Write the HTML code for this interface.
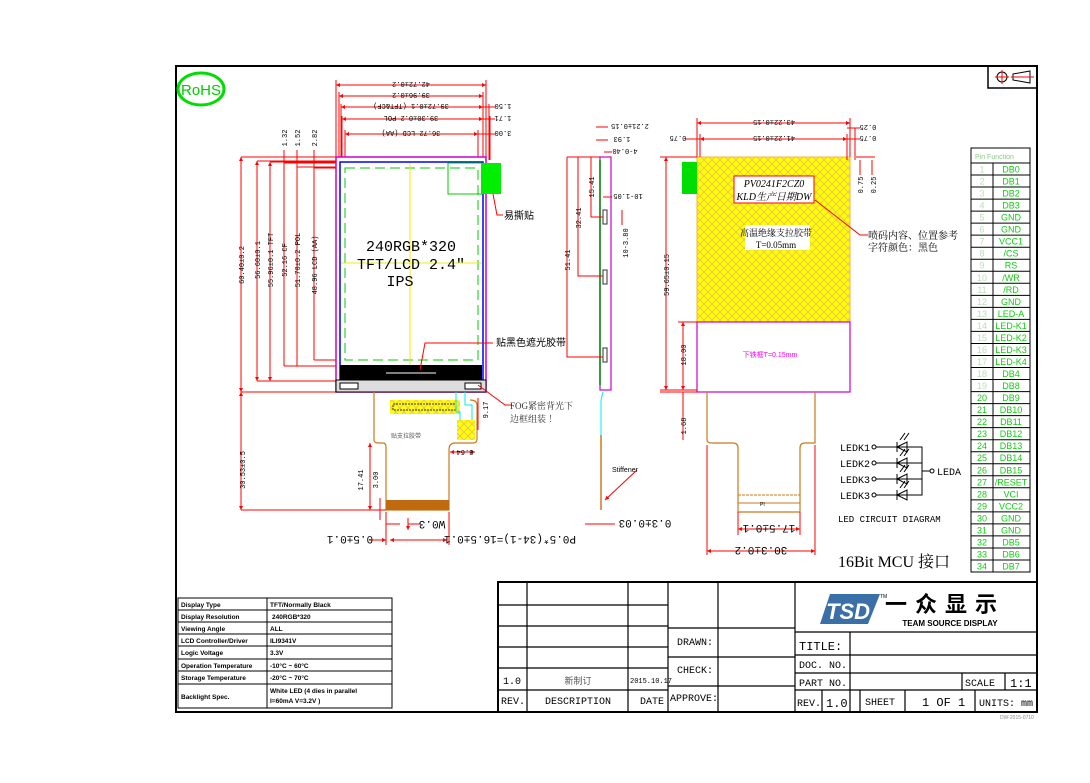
<!DOCTYPE html>
<html><head><meta charset="utf-8"><style>
html,body{margin:0;padding:0;background:#fff;}
svg{display:block;}
text{font-family:"Liberation Sans","Noto Sans CJK SC",sans-serif;}
text.m,.m text{font-family:"Liberation Mono","Noto Sans CJK SC",monospace;}
text.s{font-family:"Liberation Serif","Noto Serif CJK SC",serif;}
.r{stroke:#f00;stroke-width:1;fill:none;}
.rt{fill:#000;font-size:7px;}
</style></head><body>
<svg width="1090" height="783" viewBox="0 0 1090 783" xmlns="http://www.w3.org/2000/svg">
<defs>
<marker id="a" viewBox="0 0 10 10" refX="10" refY="5" markerWidth="6" markerHeight="4" orient="auto-start-reverse"><path d="M0,0L10,5L0,10z" fill="#f00"/></marker>
<pattern id="x" width="8" height="8" patternUnits="userSpaceOnUse"><rect width="8" height="8" fill="#ff0"/><path d="M0,0L8,8M8,0L0,8" stroke="#e8c060" stroke-width="0.8"/></pattern>
</defs>
<rect x="176" y="66" width="861" height="646" fill="none" stroke="#000" stroke-width="2"/>
<rect x="988" y="66" width="49" height="22" fill="none" stroke="#000" stroke-width="1.5"/>
<circle cx="1002" cy="77" r="5" fill="none" stroke="#000"/><path d="M995,77H1009M1002,70V84" stroke="#f00"/>
<path d="M1013,74L1030,71V83L1013,80Z" fill="none" stroke="#000"/><path d="M1011,77H1034" stroke="#f00"/>
<ellipse cx="201" cy="89" rx="23" ry="16" fill="none" stroke="#0d0" stroke-width="3"/>
<text x="201" y="95" font-size="15" fill="#0c0" text-anchor="middle">RoHS</text>

<g class="r">
<path d="M336,80V157M486,80V157M339,92V160M483,92V160M341,104V160M489,104V160M342,116V160M490,116V160M345,130V168M478,130V168"/>
<path d="M336,85H486" marker-start="url(#a)" marker-end="url(#a)"/>
<path d="M339,96H483" marker-start="url(#a)" marker-end="url(#a)"/>
<path d="M341,107H483" marker-start="url(#a)" marker-end="url(#a)"/>
<path d="M342,119H483" marker-start="url(#a)" marker-end="url(#a)"/>
<path d="M345,134H478" marker-start="url(#a)" marker-end="url(#a)"/>
<path d="M483,107H495M483,119H495M478,134H495"/>
</g>
<g class="rt m" text-anchor="middle">
<text transform="translate(411,85) rotate(180)" y="3">42.72±0.2</text>
<text transform="translate(411,96) rotate(180)" y="3">39.96±0.2</text>
<text transform="translate(411,107) rotate(180)" y="3">39.72±0.1 (TFT&amp;CF)</text>
<text transform="translate(411,119) rotate(180)" y="3">39.30±0.2 POL</text>
<text transform="translate(411,134) rotate(180)" y="3">36.72 LCD (AA)</text>
<text transform="translate(503,107) rotate(180)" y="3">1.50</text>
<text transform="translate(503,119) rotate(180)" y="3">1.71</text>
<text transform="translate(503,134) rotate(180)" y="3">3.00</text>
</g>
<g class="r">
<path d="M241,157H336M257,161H336M270,162H336M284,163H336M297,167H336M314,168H345"/>
<path d="M241,392H336M257,381H340M270,381H340M284,366H340M297,366H340M314,360H345"/>
<path d="M241,157V392" marker-start="url(#a)" marker-end="url(#a)"/>
<path d="M257,161V381" marker-start="url(#a)" marker-end="url(#a)"/>
<path d="M270,162V381" marker-start="url(#a)" marker-end="url(#a)"/>
<path d="M284,150V366"/><path d="M297,150V366"/><path d="M314,150V360"/>
</g>
<g class="rt m" text-anchor="middle">
<text transform="translate(241,265) rotate(-90)" y="3">60.40±0.2</text>
<text transform="translate(257,260) rotate(-90)" y="3">56.60±0.1</text>
<text transform="translate(270,260) rotate(-90)" y="3">55.96±0.1 TFT</text>
<text transform="translate(284,260) rotate(-90)" y="3">52.16 CF</text>
<text transform="translate(297,260) rotate(-90)" y="3">51.70±0.2 POL</text>
<text transform="translate(314,265) rotate(-90)" y="3">48.96 LCD (AA)</text>
<text transform="translate(284,138) rotate(-90)" y="3">1.32</text>
<text transform="translate(297,138) rotate(-90)" y="3">1.52</text>
<text transform="translate(314,138) rotate(-90)" y="3">2.82</text>
</g>
<rect x="336" y="157" width="150" height="235" fill="#fff" stroke="#c0c" stroke-width="1.5"/>
<rect x="340" y="162" width="143" height="218" fill="none" stroke="#00f" stroke-width="1.5"/>
<rect x="345" y="168" width="133" height="192" fill="none" stroke="#0c0" stroke-dasharray="10,5"/>
<rect x="448" y="163" width="34" height="31" fill="none" stroke="#0c0"/>
<rect x="481" y="163" width="20" height="31" fill="#0e0"/>
<path d="M410,163V380M341,263H482" stroke="#ee0"/>
<rect x="340" y="365" width="142" height="15" fill="#000"/>
<path d="M386,373H436" stroke="#fff"/>
<rect x="336" y="380" width="150" height="12" fill="#ddd" stroke="#000"/>
<rect x="340" y="383" width="18" height="6" fill="#fff" stroke="#000"/>
<rect x="465" y="383" width="16" height="6" fill="#fff" stroke="#000"/>
<text class="m" x="411" y="251" font-size="15" text-anchor="middle">240RGB*320</text>
<text class="m" x="411" y="269" font-size="15" text-anchor="middle">TFT/LCD 2.4"</text>
<text class="m" x="400" y="286" font-size="15" text-anchor="middle">IPS</text>
<g class="r"><path d="M493,194L497,215H503"/><path d="M493,343H425L420,370"/><path d="M478,385L505,405H512"/></g>
<text x="504" y="219" font-size="10">易撕贴</text>
<text x="496" y="346" font-size="10">贴黑色遮光胶带</text>
<text class="s" x="510" y="409" font-size="9" fill="#333">FOG紧密背光下</text>
<text class="s" x="510" y="422" font-size="9" fill="#333">边框组装 ！</text>
<path d="M374,392V440Q374,443 378,443H383Q386,443 386,447V510H449V450Q449,443 455,443H473Q477,443 477,439V405Q477,400 470,400" fill="none" stroke="#c87a20" stroke-width="1.2"/>
<rect x="390" y="400" width="70" height="14" fill="url(#x)"/><rect x="393" y="404" width="63" height="6" fill="none" stroke="#333" stroke-dasharray="2,1"/>
<rect x="457" y="420" width="18" height="20" fill="url(#x)"/>
<path d="M456,392V412H460V420M465,392V405H472V420" stroke="#0ee" fill="none"/>
<text x="391" y="438" font-size="6" fill="#555">贴支拉胶带</text>
<rect x="386" y="500" width="63" height="10" fill="#c06a10"/>
<g class="r">
<path d="M241,510H386M380,498V520M386,512V545M449,512V545"/>
<path d="M241,392V510" marker-start="url(#a)" marker-end="url(#a)"/>
<path d="M370,443V510" marker-start="url(#a)" marker-end="url(#a)"/>
<path d="M386,524H400M408,524H420M408,518V530" marker-end="url(#a)"/>
<path d="M370,540H386" marker-end="url(#a)"/>
<path d="M390,540H447" marker-start="url(#a)" marker-end="url(#a)"/>
<path d="M450,452H475" marker-start="url(#a)" marker-end="url(#a)"/>
<path d="M478,398V430"/>
</g>
<g class="rt m" text-anchor="middle">
<text transform="translate(242,470) rotate(-90)" y="3">30.53±0.5</text>
<text transform="translate(360,480) rotate(-90)" y="3">17.41</text>
<text transform="translate(375,480) rotate(-90)" y="3">3.00</text>
<text transform="translate(485,410) rotate(-90)" y="3">9.17</text>
<text transform="translate(465,453) rotate(180)" y="3">8.64</text>
<text transform="translate(432,525) rotate(180)" y="4" font-size="11">W0.3</text>
<text transform="translate(350,540) rotate(180)" y="4" font-size="11">0.5±0.1</text>
<text transform="translate(510,540) rotate(180)" y="4" font-size="11">P0.5*(34-1)=16.5±0.1</text>
</g>
<rect x="600" y="157" width="11" height="233" fill="none" stroke="#c0c" stroke-width="1.2"/>
<path d="M600,160V385" stroke="#080" stroke-width="1.5"/>
<rect x="603" y="210" width="4" height="14" fill="none" stroke="#333"/>
<rect x="603" y="270" width="4" height="14" fill="none" stroke="#333"/>
<rect x="603" y="348" width="4" height="14" fill="none" stroke="#333"/>
<path d="M603,392L601,400V435" stroke="#0ee" fill="none"/><path d="M601,435V510" stroke="#c87a20" stroke-width="1.5"/>
<g class="r">
<path d="M591,157H600M578,157H600M567,157H600M591,157V217H603M578,157V276H603M567,157V357H603"/>
<path d="M596,127H608M596,140H608M604,152H612M603,197H612"/>
<path d="M622,210V225"/>
<path d="M637,470L605,500" marker-end="url(#a)"/>
<path d="M585,524H615"/>
</g>
<g class="rt m" text-anchor="middle">
<text transform="translate(630,127) rotate(180)" y="3">2.21±0.15</text>
<text transform="translate(622,140) rotate(180)" y="3">1.93</text>
<text transform="translate(625,152) rotate(180)" y="3">4-0.40</text>
<text transform="translate(628,197) rotate(180)" y="3">10-1.05</text>
<text transform="translate(591,187) rotate(-90)" y="3">15.41</text>
<text transform="translate(578,218) rotate(-90)" y="3">32.41</text>
<text transform="translate(567,260) rotate(-90)" y="3">51.41</text>
<text transform="translate(625,243) rotate(-90)" y="3">10-3.80</text>
<text transform="translate(645,524) rotate(180)" y="4" font-size="11">0.3±0.03</text>
</g>
<text x="612" y="472" font-size="7">Stiffener</text>
<rect x="697" y="157" width="153" height="165" fill="url(#x)" stroke="#f8b040"/>
<rect x="697" y="322" width="153" height="70" fill="#fff" stroke="#c0c" stroke-width="1.2"/>
<rect x="682" y="162" width="15" height="32" fill="#0d0"/>
<rect x="734" y="176" width="80" height="27" fill="#fff" stroke="#f00"/>
<text class="s" x="774" y="187" font-size="10" font-style="italic" text-anchor="middle">PV0241F2CZ0</text>
<text class="s" x="774" y="200" font-size="10" font-style="italic" text-anchor="middle">KLD生产日期DW</text>
<rect x="745" y="225" width="65" height="25" fill="#fff"/>
<text class="s" x="776" y="236" font-size="9" text-anchor="middle">高温绝缘支拉胶带</text>
<text class="s" x="776" y="248" font-size="9" text-anchor="middle">T=0.05mm</text>
<text x="770" y="357" font-size="7" fill="#f0f" text-anchor="middle">下铁框T=0.15mm</text>
<path d="M707,392V440Q707,443 712,443H733Q738,443 738,448V512H800V448Q800,443 805,443H815V392" fill="none" stroke="#c87a20" stroke-width="1.2"/>
<rect x="738" y="495" width="62" height="17" fill="none" stroke="#c87a20" stroke-dasharray="3,1"/>
<path d="M738,503H800" stroke="#c87a20"/>
<text x="760" y="506" font-size="5">PI</text>
<g class="r">
<path d="M697,118V157M850,118V157M700,134V157M847,134V160M847,128H860M855,128V160"/>
<path d="M697,123H850" marker-start="url(#a)" marker-end="url(#a)"/>
<path d="M700,139H847" marker-start="url(#a)" marker-end="url(#a)"/>
<path d="M685,139H700M847,139H860"/>
<path d="M660,157H697M660,390H697M678,322H697M660,392H697"/>
<path d="M666,157V390" marker-start="url(#a)" marker-end="url(#a)"/>
<path d="M683,322V390" marker-start="url(#a)" marker-end="url(#a)"/>
<path d="M683,392V440"/>
<path d="M860,160V175M872,160V175M856,157H875"/>
<path d="M815,200L860,235H868"/>
<path d="M707,445V555M815,445V555M738,512V535M800,512V535"/>
<path d="M738,529H800" marker-start="url(#a)" marker-end="url(#a)"/>
<path d="M707,551H815" marker-start="url(#a)" marker-end="url(#a)"/>
</g>
<g class="rt m" text-anchor="middle">
<text transform="translate(774,123) rotate(180)" y="3">43.22±0.15</text>
<text transform="translate(774,139) rotate(180)" y="3">41.22±0.15</text>
<text transform="translate(678,139) rotate(180)" y="3">0.75</text>
<text transform="translate(868,128) rotate(180)" y="3">0.25</text>
<text transform="translate(868,139) rotate(180)" y="3">0.75</text>
<text transform="translate(860,185) rotate(-90)" y="3">0.75</text>
<text transform="translate(873,185) rotate(-90)" y="3">0.25</text>
<text transform="translate(666,275) rotate(-90)" y="3">59.65±0.15</text>
<text transform="translate(683,355) rotate(-90)" y="3">18.00</text>
<text transform="translate(683,426) rotate(-90)" y="3">1.68</text>
<text transform="translate(769,529) rotate(180)" y="4" font-size="11">17.5±0.1</text>
<text transform="translate(761,551) rotate(180)" y="4" font-size="11">30.3±0.2</text>
</g>
<text class="s" x="868" y="239" font-size="10">喷码内容、位置参考</text>
<text class="s" x="868" y="251" font-size="10">字符颜色：黑色</text>
<g class="m" font-size="10">
<text x="840" y="451">LEDK1</text><text x="840" y="467">LEDK2</text><text x="840" y="483">LEDK3</text><text x="840" y="499">LEDK3</text>
<text x="937" y="475">LEDA</text>
<text x="838" y="522" font-size="9">LED CIRCUIT DIAGRAM</text>
</g>
<g stroke="#000" fill="none">
<circle cx="874" cy="447" r="2"/><circle cx="874" cy="463" r="2"/><circle cx="874" cy="479" r="2"/><circle cx="874" cy="495" r="2"/>
<path d="M876,447H922V495H876M876,463H922M876,479H922M922,471H930"/><circle cx="932" cy="471" r="2"/>
<path d="M897,447L907,442V452ZM897,463L907,458V468ZM897,479L907,474V484ZM897,495L907,490V500Z"/>
<path d="M897,442V452M897,458V468M897,474V484M897,490V500"/>
<path d="M900,440L905,433M904,440L909,433M900,456L905,449M904,456L909,449M900,472L905,465M904,472L909,465M900,488L905,481M904,488L909,481"/>
</g>
<text class="s" x="838" y="567" font-size="16">16Bit MCU 接口</text>
<g stroke="#000" fill="none" stroke-width="1">
<rect x="971" y="148" width="59" height="424"/>
<path d="M993,163V572"/>
</g>
<text x="975" y="159" font-size="7" fill="#8c8">Pin Function</text>
<g font-size="9" fill="#1c1" text-anchor="middle" id="pins"></g>
<g stroke="#000" fill="none"><rect x="178" y="598" width="214" height="110"/>
<path d="M267,598V708M178,610H392M178,622H392M178,634H392M178,646H392M178,659H392M178,671H392M178,684H392"/></g>
<g font-size="6.5" font-weight="bold">
<text x="181" y="607">Display Type</text><text x="270" y="607">TFT/Normally Black</text>
<text x="181" y="619">Display Resolution</text><text x="272" y="619">240RGB*320</text>
<text x="181" y="631">Viewing Angle</text><text x="270" y="631">ALL</text>
<text x="181" y="643">LCD Controller/Driver</text><text x="270" y="643">ILI9341V</text>
<text x="181" y="655">Logic Voltage</text><text x="270" y="655">3.3V</text>
<text x="181" y="668">Operation Temperature</text><text x="270" y="668">-10°C ~ 60°C</text>
<text x="181" y="680">Storage Temperature</text><text x="270" y="680">-20°C ~ 70°C</text>
<text x="181" y="699">Backlight Spec.</text><text x="270" y="693">White LED (4 dies in  parallel</text><text x="270" y="703">I=60mA V=3.2V )</text>
</g>
<g stroke="#000" fill="none" stroke-width="1.2">
<rect x="498" y="582" width="539" height="130" stroke-width="2"/>
<path d="M527,582V712M628,582V712M668,582V712M718,582V712M795,582V712"/>
<path d="M498,605H668M498,626H668M498,647H668M498,668H668M498,690H668"/>
<path d="M668,628H795M668,657H795M668,686H795"/>
<path d="M795,632H1037M795,655H1037M795,673H1037M795,690H1037M850,632V712M962,673V690M1005,673V690M822,690V712M860,690V712M905,690V712M975,690V712"/>
</g>
<g class="m" font-size="10">
<text x="503" y="684">1.0</text><text x="578" y="684" text-anchor="middle" font-size="9" fill="#555">新制订</text><text x="630" y="683" font-size="7">2015.10.17</text>
<text x="501" y="704">REV.</text><text x="578" y="704" text-anchor="middle">DESCRIPTION</text><text x="640" y="704">DATE</text>
<text x="677" y="645">DRAWN:</text><text x="677" y="673">CHECK:</text><text x="670" y="701">APPROVE:</text>
<text x="799" y="650" font-size="12">TITLE:</text><text x="799" y="668">DOC. NO.</text><text x="799" y="686">PART NO.</text>
<text x="965" y="686">SCALE</text><text x="1010" y="687" font-size="12">1:1</text>
<text x="797" y="706">REV.</text><text x="826" y="707" font-size="12">1.0</text><text x="865" y="705">SHEET</text><text x="922" y="706" font-size="12">1 OF 1</text><text x="979" y="706">UNITS: mm</text>
</g>
<path d="M830,594H880L868,624H820Z" fill="#3a6fa8"/>
<text x="826" y="619" font-size="22" font-weight="bold" font-style="italic" fill="#fff">TSD</text>
<text x="880" y="598" font-size="5">TM</text>
<text x="945" y="612" font-size="22" font-weight="bold" text-anchor="middle" letter-spacing="8">一众显示</text>
<text x="950" y="626" font-size="8" font-weight="bold" text-anchor="middle">TEAM SOURCE DISPLAY</text>
<text x="1000" y="719" font-size="5" fill="#888">DW-2015-0710</text>
</svg>
<script>
var n=["DB0","DB1","DB2","DB3","GND","GND","VCC1","/CS","RS","/WR","/RD","GND","LED-A","LED-K1","LED-K2","LED-K3","LED-K4","DB4","DB8","DB9","DB10","DB11","DB12","DB13","DB14","DB15","/RESET","VCI","VCC2","GND","GND","DB5","DB6","DB7"];
var g=document.getElementById("pins"),s="";
for(var i=0;i<34;i++){var y=163+i*12.03;
s+='<line x1="971" x2="1030" y1="'+y+'" y2="'+y+'" stroke="#000"/>';
s+='<text x="982" y="'+(y+9.5)+'" '+(i<19?'fill="#bdb"':'')+'>'+(i+1)+'</text><text x="1011" y="'+(y+9.5)+'">'+n[i]+'</text>';}
g.innerHTML=s;
</script>
</body></html>
